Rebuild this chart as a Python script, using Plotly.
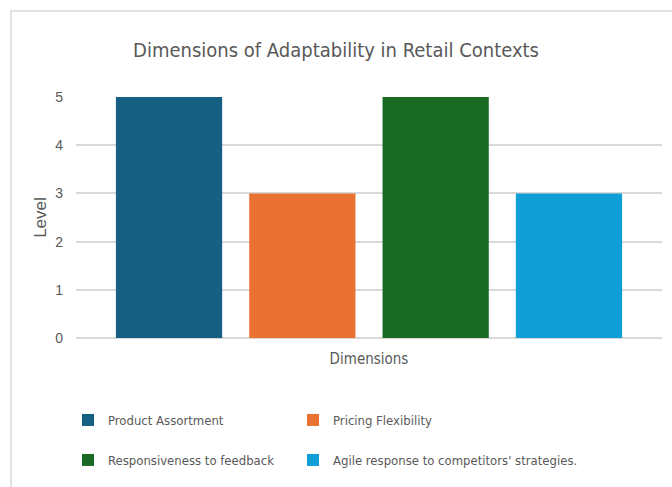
import plotly.graph_objects as go

categories = ["Dimensions"]
series_names = ["Product Assortment", "Pricing Flexibility",
                "Responsiveness to feedback", "Agile response to competitors' strategies."]
series_values = [5, 3, 5, 3]
series_colors = ["#156082", "#E97132", "#196B24", "#0F9ED5"]
legend_ids = ["legend", "legend2", "legend3", "legend4"]
y_ticks = [0, 1, 2, 3, 4, 5]

W, H = 672, 487
L, R, T, B = 76, 10, 97, 149
ph = H - T - B
pw = W - L - R

fig = go.Figure()
for name, val, col, lg in zip(series_names, series_values, series_colors, legend_ids):
    fig.add_trace(go.Bar(x=categories, y=[val], name=name, marker_color=col,
                         marker_line_width=0, legend=lg))

narrow = "Liberation Sans Narrow, DejaVu Sans Condensed, Roboto, sans-serif"

def py(ypix):
    return (H - B - ypix) / ph

def px(xpix):
    return (xpix - L) / pw

legend_common = dict(orientation="h", xanchor="left", yanchor="middle",
                     font=dict(family=narrow, size=13, color="#595959"),
                     bgcolor="rgba(0,0,0,0)", itemclick=False)

fig.update_layout(
    width=W, height=H,
    margin=dict(l=L, r=R, t=T, b=B, autoexpand=False),
    paper_bgcolor="white", plot_bgcolor="white",
    barmode="group", bargap=0.09, bargroupgap=0.203,
    title=dict(text="Dimensions of Adaptability in Retail Contexts",
               x=0.5, xanchor="center", y=1 - 50 / H, yanchor="middle",
               font=dict(family=narrow, size=20, color="#595959")),
    showlegend=True,
    legend=dict(x=px(68), y=py(420), **legend_common),
    legend2=dict(x=px(293), y=py(420), **legend_common),
    legend3=dict(x=px(68), y=py(460), **legend_common),
    legend4=dict(x=px(293), y=py(460), **legend_common),
    xaxis=dict(showticklabels=False, showgrid=False, zeroline=False, showline=False,
               title=dict(text="Dimensions", standoff=15,
                          font=dict(family=narrow, size=15, color="#595959"))),
    yaxis=dict(range=[0, 5], tickvals=y_ticks, showgrid=True, gridcolor="#d9d9d9",
               gridwidth=1.5, zeroline=True, zerolinecolor="#d9d9d9", zerolinewidth=1.5,
               showline=False, ticklabelstandoff=12,
               tickfont=dict(family="Liberation Sans, Arial, sans-serif", size=14, color="#595959"),
               title=dict(text="Level", standoff=4,
                          font=dict(family="Liberation Sans, Arial, sans-serif", size=17, color="#595959"))),
    shapes=[dict(type="rect", xref="paper", yref="paper",
                 x0=px(11), x1=px(W + 20), y0=py(H + 20), y1=py(11),
                 line=dict(color="#d9d9d9", width=1.5), fillcolor="rgba(0,0,0,0)", layer="below")],
)

fig.write_html("out.html")
